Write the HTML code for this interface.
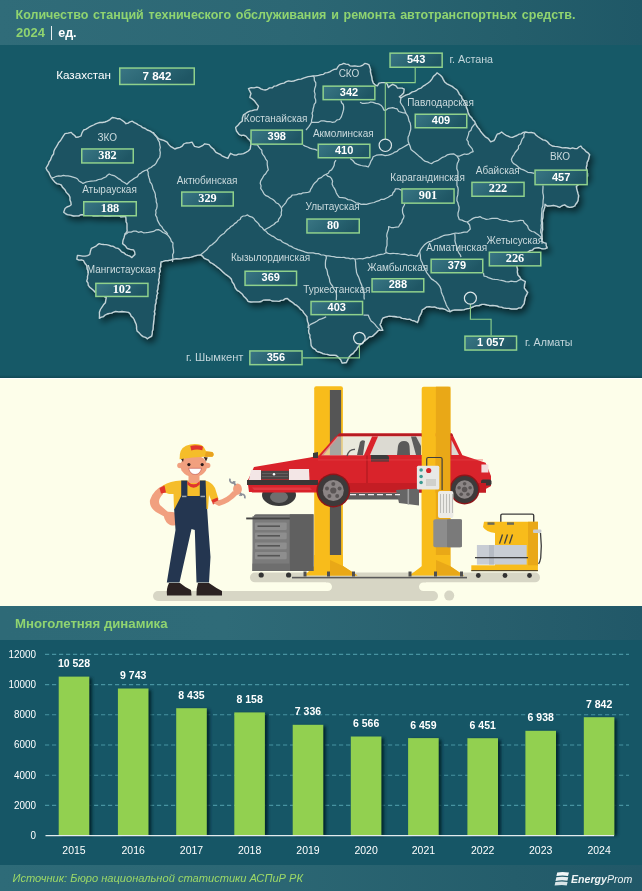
<!DOCTYPE html>
<html lang="ru">
<head>
<meta charset="utf-8">
<title>Количество станций технического обслуживания и ремонта автотранспортных средств</title>
<style>
html,body{margin:0;padding:0;}
body{width:642px;height:891px;overflow:hidden;position:relative;background:#175866;font-family:"Liberation Sans","DejaVu Sans",sans-serif;}
.abs{position:absolute;}
#hdr{left:0;top:0;width:642px;height:45px;background:linear-gradient(90deg,#306c79 0%,#2c6774 45%,#245e6b 80%,#1f5867 100%);z-index:3;}
#map{left:0;top:45px;width:642px;height:333px;background:#165967;}
#ill{left:0;top:378px;width:642px;height:228px;background:#fdfeea;}
#mapsh{left:0;top:374.5px;width:642px;height:3.5px;background:linear-gradient(180deg,rgba(8,40,48,0) 0%,rgba(8,40,48,.35) 100%);z-index:3;}
#illhl{left:0;top:378px;width:642px;height:1px;background:#ffffff;z-index:3;}
#chh{left:0;top:606px;width:642px;height:34px;background:linear-gradient(90deg,#2e6a77 0%,#2f6b78 35%,#285f6d 75%,#215868 100%);}
#cht{left:0;top:640px;width:642px;height:225px;background:#165666;}
#ftr{left:0;top:865px;width:642px;height:26px;background:linear-gradient(90deg,#2e6b78 0%,#2b6673 45%,#245d6b 80%,#215868 100%);}
svg{position:absolute;left:0;top:0;}
.t1{position:absolute;left:15.5px;top:7.7px;font:bold 12.5px "Liberation Sans",sans-serif;color:#90d470;word-spacing:1.3px;white-space:nowrap;}
.t2{position:absolute;left:16px;top:25px;font:bold 13px "Liberation Sans",sans-serif;color:#90d470;white-space:nowrap;}
.t2 .bar{display:inline-block;width:1.3px;height:14px;background:#e8f0f0;vertical-align:-3px;margin:0 6px 0 6px;}
.t2 .u{color:#fff;font-weight:bold;font-size:12.5px;}
.cht-title{position:absolute;left:15px;top:615.5px;font:bold 13.2px "Liberation Sans",sans-serif;color:#90d470;white-space:nowrap;}
.logo{position:absolute;left:571px;top:873px;font:italic 10.6px "Liberation Sans",sans-serif;color:#eef3f4;white-space:nowrap;z-index:5;line-height:12px;}
.logo b{font-weight:bold;}
.src{position:absolute;left:12.5px;top:871.5px;font:italic 11.1px "Liberation Sans",sans-serif;color:#9cd867;white-space:nowrap;}
</style>
</head>
<body>
<div id="hdr" class="abs">
  <div class="t1">Количество станций технического обслуживания и ремонта автотранспортных средств.</div>
  <div class="t2">2024<span class="bar"></span><span class="u">ед.</span></div>
</div>
<div id="map" class="abs"></div>
<div id="ill" class="abs"></div>
<div id="mapsh" class="abs"></div>
<div id="illhl" class="abs"></div>
<div id="chh" class="abs"></div>
<div id="cht" class="abs"></div>
<div id="ftr" class="abs"></div>
<div class="cht-title">Многолетняя динамика</div>
<div class="logo"><svg width="16" height="15" viewBox="0 0 16 15" style="position:absolute;left:-17px;top:-1px"><path d="M3.2 0.6 Q8 -0.4 15 0.6 L14 4 Q8 3 2.4 4.1 Z" fill="#f2f6f7"/><path d="M2.3 5.3 Q8 4.3 14.3 5.3 L13.4 8.8 Q8 7.8 1.5 8.9 Z" fill="#e6eef0"/><path d="M1.4 10 Q8 9 13.6 10 L12.8 13.4 Q8 12.4 0.6 13.6 Z" fill="#d9e4e7"/></svg><b>Energy</b>Prom</div>
<div class="src">Источник: Бюро национальной статистики АСПиР РК</div>

<svg width="642" height="891" style="position:absolute;left:0;top:0;z-index:2">
<defs>
<filter id="msh" x="-10%" y="-10%" width="120%" height="130%"><feGaussianBlur in="SourceAlpha" stdDeviation="3"/><feOffset dx="3" dy="4"/><feComponentTransfer><feFuncA type="linear" slope="0.55"/></feComponentTransfer><feMerge><feMergeNode/><feMergeNode in="SourceGraphic"/></feMerge></filter>
<linearGradient id="bxg" x1="0" y1="0" x2="1" y2="0.3"><stop offset="0" stop-color="#3a7684"/><stop offset="0.5" stop-color="#2b6674"/><stop offset="1" stop-color="#1f5664"/></linearGradient>
</defs>
<polygon points="46.0,168.0 47.2,166.1 48.4,164.2 49.0,162.0 50.4,160.2 51.2,158.1 52.0,156.0 53.6,154.0 53.9,151.3 54.9,149.0 56.3,146.8 57.6,144.7 58.7,142.4 60.6,140.5 62.0,138.2 63.4,135.8 65.0,133.7 68.1,133.2 71.2,132.4 72.7,134.1 74.7,135.5 76.0,137.4 78.6,137.0 81.0,136.0 82.0,132.9 83.6,130.0 85.7,129.3 87.7,128.2 89.5,126.8 91.5,125.9 93.6,125.0 95.6,123.9 97.7,123.2 99.8,122.5 102.4,122.5 104.9,122.0 107.3,121.2 110.0,119.6 112.3,117.5 114.8,117.9 117.2,118.7 119.8,118.7 122.0,120.2 124.1,121.8 126.0,123.7 128.2,123.1 130.1,121.8 132.3,121.2 134.3,122.6 136.5,123.6 138.5,125.0 140.8,126.0 142.7,127.7 145.2,128.5 147.2,130.0 149.8,130.9 152.2,132.4 153.4,132.7 154.8,135.1 156.8,137.0 158.4,138.6 160.5,139.5 163.7,140.4 167.1,142.1 168.6,144.4 170.5,146.4 172.7,147.6 174.8,149.0 177.3,148.0 180.0,147.3 182.2,146.2 183.7,144.0 186.0,143.0 189.1,142.9 192.0,142.1 193.2,144.3 194.5,146.4 198.8,147.3 200.9,146.4 203.0,145.3 204.8,143.8 209.1,144.7 211.0,147.1 213.4,149.0 215.9,152.4 218.0,153.4 220.1,154.3 221.9,155.8 224.8,157.2 227.9,158.4 229.1,155.8 230.5,153.3 233.9,155.0 236.3,155.2 238.5,154.2 240.8,154.1 243.5,153.6 245.9,152.4 248.3,151.0 250.2,149.0 250.6,146.4 251.0,143.8 250.2,140.4 247.9,138.4 245.9,136.1 243.7,135.2 241.2,135.5 239.0,134.4 236.5,131.0 235.6,127.6 238.2,125.0 240.0,122.8 242.3,121.1 242.4,117.9 243.5,114.8 245.6,113.5 247.6,112.1 249.8,111.1 252.2,110.6 254.7,109.9 257.2,109.9 258.5,106.1 256.5,103.6 254.7,101.1 252.4,99.0 249.8,97.4 251.0,93.6 249.8,91.1 248.5,88.7 251.2,87.7 254.1,87.8 256.8,87.2 259.0,87.7 260.9,88.8 263.0,89.6 265.2,90.0 267.5,89.3 269.5,87.9 272.1,87.9 274.0,86.2 276.4,85.8 278.8,84.6 281.3,83.6 284.0,83.1 286.3,81.6 288.7,80.9 291.3,81.3 293.7,81.0 296.1,80.2 298.5,79.3 301.1,79.1 303.5,78.1 305.9,77.4 308.2,76.7 310.5,76.3 312.9,76.0 315.8,75.9 318.6,75.4 321.3,74.6 323.5,74.3 325.4,72.8 327.6,72.6 329.7,71.8 331.9,70.5 334.2,69.4 336.7,69.0 337.9,66.8 339.5,64.8 341.7,64.3 343.7,63.4 345.8,64.2 348.1,64.3 349.9,65.8 352.1,66.2 354.9,65.8 357.7,66.4 360.5,66.2 362.9,65.1 364.8,63.4 367.0,63.9 369.0,64.8 369.7,67.1 370.5,69.4 370.4,71.8 371.1,74.6 371.8,77.4 372.2,80.3 373.2,83.0 375.8,85.4 377.4,85.9 379.1,83.2 381.8,82.6 385.6,82.6 387.3,84.3 388.4,87.5 390.0,85.9 392.7,84.3 396.0,85.9 397.6,88.1 402.0,88.1 404.2,89.2 403.6,93.0 401.4,95.2 399.3,96.8 400.9,97.9 403.3,96.5 405.8,95.2 409.1,94.1 412.3,91.9 414.6,91.3 416.7,90.3 418.7,88.8 421.1,88.1 423.1,86.2 425.4,84.8 427.7,83.2 430.0,81.5 431.9,79.1 433.4,76.4 435.4,74.8 437.0,72.8 440.4,75.2 442.2,77.2 443.3,79.6 444.6,81.9 446.8,83.8 449.5,85.1 452.1,86.4 454.5,88.3 457.0,90.0 458.3,92.1 459.4,94.5 461.4,96.2 462.1,98.7 463.8,100.6 465.0,102.8 466.0,105.0 466.3,107.4 467.4,109.6 467.9,112.0 468.7,114.2 470.0,116.3 471.7,117.8 472.8,119.7 474.5,121.2 475.4,123.3 476.4,125.5 477.7,127.4 479.4,129.2 480.5,131.3 482.0,133.1 483.6,135.0 485.3,136.8 487.5,138.1 489.2,139.8 490.7,141.8 494.0,140.7 495.2,138.6 496.1,136.4 497.2,134.2 499.6,133.5 501.6,132.0 503.7,133.8 506.0,135.3 508.1,136.1 510.2,137.2 512.5,137.4 514.7,136.3 516.9,135.5 519.0,134.2 521.3,133.8 523.3,132.4 525.6,132.0 528.5,132.7 531.4,132.5 534.3,133.1 536.1,135.3 538.4,137.0 540.8,138.5 542.9,139.9 545.4,140.4 547.4,141.8 549.5,144.3 552.2,146.0 554.7,146.4 557.2,146.6 559.7,147.2 562.4,147.9 565.2,147.6 568.0,148.0 570.3,148.6 572.6,147.9 574.9,148.6 577.2,148.5 578.9,147.0 580.9,146.0 582.4,148.3 584.6,149.8 586.0,151.7 588.1,152.9 589.6,154.7 589.0,157.2 588.4,159.7 587.1,162.4 586.9,164.9 586.3,167.4 586.5,170.0 587.4,172.9 587.5,176.0 585.8,177.4 584.5,179.3 582.6,180.5 581.0,182.0 578.7,184.3 576.3,186.5 576.7,188.9 577.3,191.1 577.9,193.4 578.6,195.7 578.3,197.9 578.1,200.2 577.2,202.3 575.8,204.0 574.7,206.0 572.3,207.0 569.7,207.3 567.0,206.5 564.7,204.8 562.0,205.7 559.7,207.3 556.6,206.2 553.5,205.3 550.4,205.8 547.2,206.0 545.0,204.2 544.8,206.9 544.0,209.4 543.2,212.0 543.0,214.7 542.9,217.4 542.2,220.0 542.4,222.7 542.4,225.0 542.4,227.4 542.5,229.7 542.0,232.0 541.7,234.3 542.1,236.6 542.1,238.9 541.8,241.2 543.7,242.7 546.1,243.4 546.2,245.7 547.2,247.8 545.1,248.7 542.9,248.9 540.7,248.4 538.6,247.7 536.3,247.8 534.0,248.4 532.3,250.2 529.9,250.6 528.0,252.0 526.2,253.7 523.7,254.6 522.2,256.7 520.0,258.0 519.2,260.1 518.3,262.1 517.2,264.1 516.7,266.3 517.5,269.1 517.3,272.1 517.8,275.0 519.7,277.0 521.1,279.4 523.2,280.5 525.4,281.6 524.5,284.8 524.3,288.1 526.0,290.3 527.6,292.5 526.6,294.7 525.4,296.8 525.0,299.0 524.4,301.2 524.3,303.4 522.7,305.6 521.1,307.8 518.9,307.8 516.8,309.0 514.5,308.8 511.7,309.0 509.1,308.3 506.3,308.4 503.6,307.8 501.5,307.1 499.2,306.8 497.1,306.0 494.9,305.7 492.7,305.5 489.9,305.6 487.2,305.0 484.6,304.3 481.8,304.4 479.1,305.5 476.2,305.6 473.5,306.7 471.5,307.5 469.4,308.4 467.2,308.7 464.2,309.6 461.0,310.0 457.9,310.0 454.8,310.0 452.3,310.4 450.1,311.6 447.4,310.8 445.0,309.3 442.3,308.5 439.6,308.5 437.0,307.9 434.5,306.9 431.9,307.1 429.3,306.6 426.7,306.9 424.4,308.5 422.1,310.0 421.5,312.4 420.5,314.7 419.0,317.1 418.5,319.9 417.4,322.5 414.3,320.9 411.9,320.3 409.7,319.2 407.2,319.3 404.9,318.6 402.2,318.3 399.8,317.2 397.1,317.0 394.5,316.5 391.9,316.3 389.3,316.2 386.2,316.8 383.1,317.8 381.7,320.0 381.1,322.5 379.9,324.7 381.5,327.4 382.7,330.3 378.5,330.3 376.5,332.5 374.3,334.5 372.2,336.4 369.4,336.8 367.3,338.7 365.6,340.1 363.6,341.3 362.4,343.3 360.3,344.3 358.9,346.0 357.4,347.7 356.4,349.8 354.7,351.3 353.1,353.4 350.8,354.8 349.1,356.9 347.7,359.7 346.3,362.5 342.1,363.1 340.7,359.7 338.6,357.5 336.4,355.5 334.2,355.2 331.9,355.2 329.6,355.2 327.4,354.3 325.2,354.1 323.0,353.7 321.0,352.7 318.9,352.0 316.8,351.3 315.1,349.3 312.7,347.9 311.2,345.7 310.9,342.9 310.7,340.0 309.8,337.3 310.0,335.0 308.8,332.9 308.6,330.6 309.1,328.3 308.4,326.1 308.5,323.7 307.6,321.4 307.2,319.1 307.0,316.7 305.5,314.9 304.0,313.1 302.8,311.1 300.5,309.2 298.6,306.9 296.8,305.4 294.7,304.3 293.0,302.7 291.0,301.4 289.1,300.1 287.4,298.5 285.1,298.7 283.3,300.1 281.0,300.3 279.0,301.3 276.7,301.1 274.4,301.1 272.2,301.0 270.0,300.0 267.7,299.9 265.4,300.0 263.1,300.2 261.0,301.5 258.8,301.8 256.5,301.9 253.7,301.8 250.9,302.0 248.1,301.3 246.9,299.4 245.4,297.7 243.7,296.2 242.5,294.3 240.7,292.8 238.9,291.3 236.9,290.1 235.1,287.5 234.1,284.5 232.2,281.9 231.3,278.9 229.4,277.0 227.1,275.4 224.9,273.8 222.9,271.9 220.9,270.0 218.9,268.2 216.6,266.6 214.5,264.9 212.4,263.5 210.1,262.4 208.5,260.2 206.1,259.2 204.0,258.1 202.6,256.1 200.5,255.0 198.1,255.1 195.8,255.7 193.5,256.4 191.2,257.1 188.8,257.6 186.4,257.6 183.9,258.0 181.5,258.6 179.0,258.8 176.4,258.6 174.0,259.2 170.9,260.0 167.7,260.7 165.4,260.6 163.2,261.4 161.0,262.0 160.7,264.2 160.7,266.5 159.7,268.7 160.4,271.1 159.3,273.2 159.4,275.5 159.3,277.8 158.5,280.0 159.1,282.3 158.4,284.5 158.0,286.7 157.9,289.0 157.1,291.2 157.7,293.5 156.6,295.7 156.8,298.0 156.0,300.2 156.1,302.6 155.3,304.8 155.1,307.1 155.1,309.3 154.3,311.5 154.8,313.8 154.2,316.0 154.1,318.7 153.7,321.5 153.4,324.2 153.2,326.6 153.1,329.1 152.3,331.4 152.2,333.8 151.6,336.2 149.4,337.3 147.4,338.8 145.6,337.3 143.3,336.6 141.4,335.4 139.4,333.1 137.1,331.1 136.6,328.8 136.6,326.5 136.2,324.2 135.1,321.9 134.2,319.5 132.8,317.4 131.1,315.9 130.1,313.8 128.5,312.3 125.3,311.8 122.0,311.5 118.8,311.8 115.7,311.4 113.6,312.2 111.5,313.1 109.3,313.4 107.1,314.0 105.1,315.0 103.5,316.6 101.3,317.1 99.4,318.3 99.5,315.3 99.4,312.3 100.4,309.5 102.0,307.1 103.5,304.8 105.4,302.8 105.8,300.2 106.3,297.7 104.1,296.5 102.0,295.0 99.3,294.7 97.5,292.7 95.0,292.0 93.4,290.2 91.6,288.7 89.8,287.2 88.3,285.4 88.0,282.9 86.7,281.0 87.5,278.7 87.5,276.4 88.1,274.1 88.3,271.7 87.1,268.7 86.7,265.4 84.9,263.2 83.6,260.7 81.4,259.8 79.0,260.1 76.8,259.2 77.4,255.5 80.0,255.7 82.6,256.1 85.2,256.1 87.6,255.6 89.8,254.5 90.4,251.3 91.4,248.3 93.5,247.4 95.6,246.4 97.3,244.9 99.2,243.6 101.5,244.3 103.8,244.5 106.2,244.6 108.5,245.2 110.9,246.0 113.3,246.4 115.4,247.8 117.9,248.3 119.9,249.8 121.5,251.8 123.9,252.8 125.7,254.5 127.8,255.4 130.0,256.2 131.9,257.6 135.0,254.5 134.7,252.0 133.5,249.8 130.3,249.3 127.2,248.3 125.2,245.7 122.6,243.6 123.0,240.4 124.1,237.4 124.7,235.1 125.8,233.1 127.2,231.2 127.0,228.7 127.0,226.3 127.0,223.8 126.1,221.4 126.0,218.9 125.7,216.5 123.4,216.5 121.1,216.9 118.8,215.9 116.5,215.8 114.2,215.7 111.9,215.9 109.6,216.2 107.3,216.0 105.0,216.0 102.6,215.5 100.2,215.7 97.8,215.9 95.5,215.7 93.1,215.7 90.7,215.1 88.4,214.9 86.0,214.7 83.6,214.7 81.1,214.7 78.7,215.9 76.2,215.9 73.7,216.0 70.6,215.1 67.4,214.7 65.4,213.6 63.7,212.2 65.0,208.5 66.9,207.0 69.3,206.2 71.2,204.8 70.9,202.3 70.0,199.9 70.0,197.3 69.1,195.2 67.5,193.6 66.0,191.9 65.0,189.8 62.8,187.6 61.2,184.8 59.1,184.1 56.9,183.6 55.0,182.3 53.0,179.9 51.2,177.3 49.9,175.0 48.9,172.5 47.1,170.4" fill="#1f5262" stroke="#c4d4d8" stroke-width="1.35" stroke-linejoin="round" filter="url(#msh)"/>
<polyline points="147.2,169.9 144.9,170.5 142.8,171.6 140.9,173.1 138.8,174.3 137.5,176.6 135.3,177.8 133.4,178.9 131.6,180.3 129.7,181.5 126.9,184.3 124.8,182.7 122.3,181.5 120.4,179.6 118.3,178.6 116.6,177.2 114.8,175.9 111.9,175.2 109.2,174.0 107.4,175.3 105.8,177.0 103.6,177.8 101.3,179.2 98.5,179.5 96.1,180.6 93.6,181.0 91.1,181.2 88.6,181.5 85.7,182.2 83.0,183.4 81.0,182.1 79.0,181.0 77.6,179.0 75.5,177.8 73.0,177.1 70.5,176.4 68.0,175.9 65.7,175.8 63.4,175.4 61.0,176.1 58.7,175.9 56.4,176.3 54.3,177.3 52.1,177.8" fill="none" stroke="#b9cdd2" stroke-width="1.25" stroke-linejoin="round"/>
<polyline points="152.2,132.4 154.8,134.4 156.8,137.0 157.9,139.7 159.4,142.1 159.7,144.7 160.3,147.3 159.7,149.8 160.3,152.4 160.1,154.9 159.7,157.4 158.2,159.1 157.1,161.1 156.1,163.1 154.7,164.9 152.7,166.0 151.0,167.5 148.9,168.4 147.2,169.9" fill="none" stroke="#b9cdd2" stroke-width="1.25" stroke-linejoin="round"/>
<polyline points="147.2,169.9 148.2,172.3 148.2,174.9 148.9,177.4 149.7,179.8 150.1,182.1 151.6,183.9 152.4,186.0 152.8,188.2 153.7,190.3 154.7,192.3 155.4,194.6 155.4,197.0 156.2,199.3 156.2,201.7 157.0,204.0 157.1,206.3 156.7,208.4 155.7,210.5 156.0,212.8 155.5,215.0 156.9,217.4 157.4,220.1 158.7,222.6 160.0,225.0 161.8,226.6 163.0,228.8 164.5,230.7 166.4,232.2 167.7,234.3" fill="none" stroke="#b9cdd2" stroke-width="1.25" stroke-linejoin="round"/>
<polyline points="124.0,234.0 126.5,233.8 128.6,232.1 131.2,232.1 133.5,231.2 136.0,231.1 138.4,232.3 141.1,231.6 143.5,232.8 146.0,232.7 148.5,232.3 151.1,231.8 153.6,231.4 155.9,229.9 158.4,229.6 160.8,230.8 162.9,232.5 165.5,233.4 167.7,235.0 169.2,236.9 170.6,238.8 171.3,241.2 173.0,243.0 172.8,245.4 173.0,247.7 173.5,250.0 173.6,252.4 172.6,254.8 172.8,257.2 172.9,259.6 172.4,262.0" fill="none" stroke="#b9cdd2" stroke-width="1.25" stroke-linejoin="round"/>
<polyline points="200.5,255.0 202.5,253.2 204.6,251.5 206.7,249.8 208.3,247.6 209.9,245.9 212.0,244.8 213.7,243.2 215.5,241.7 217.1,240.0 218.5,237.9 220.2,236.1 222.2,234.6 224.3,233.2 225.8,231.2 227.4,229.5 229.3,228.2 230.9,226.5 233.0,225.4 234.5,223.6 236.6,222.4 237.9,220.5 240.1,219.5 241.1,217.2 243.2,216.0 245.5,215.8 247.6,214.9 249.6,216.4 252.0,217.1 253.9,218.5 255.1,220.5 256.8,222.0 258.5,223.6 259.9,226.1 262.4,227.8 264.0,230.2" fill="none" stroke="#b9cdd2" stroke-width="1.25" stroke-linejoin="round"/>
<polyline points="264.0,230.2 266.5,228.7 269.2,227.4 271.6,225.8 273.9,224.5 275.7,222.5 278.1,221.4 278.7,219.0 280.2,217.0 281.4,214.9 281.2,212.6 281.7,210.3 281.4,208.0" fill="none" stroke="#b9cdd2" stroke-width="1.25" stroke-linejoin="round"/>
<polyline points="251.0,143.8 254.1,144.7 257.4,144.8 258.7,146.8 260.1,148.6 261.8,150.3 261.9,152.6 262.9,154.6 264.6,156.7 265.7,159.1 267.3,161.2 267.2,164.2 267.6,167.0 268.3,169.9 266.8,171.7 265.7,173.7 264.0,175.3 262.4,178.1 260.7,180.8 260.2,183.3 261.1,185.9 260.7,188.4 262.5,191.0 264.0,193.9 265.9,195.7 268.4,196.7 270.5,198.2 272.6,199.3 274.5,200.8 276.0,202.7 278.2,203.7 279.9,205.7 281.4,208.0" fill="none" stroke="#b9cdd2" stroke-width="1.25" stroke-linejoin="round"/>
<polyline points="281.4,208.0 282.8,206.1 284.4,204.4 285.9,202.6 286.9,200.4 288.5,198.4 290.7,197.0 292.3,195.0 294.5,194.9 296.7,194.6 298.8,193.7 301.1,193.9 303.1,192.8 305.4,192.7 307.7,192.5 309.8,191.7 310.6,189.4 311.9,187.4 313.0,185.2 314.7,182.9 317.0,181.0 318.5,178.6 321.3,177.6 323.5,175.6 326.1,174.3 328.3,173.3 329.5,171.0 331.6,169.9 333.0,167.6 334.2,165.2 334.5,162.4 336.0,160.1" fill="none" stroke="#b9cdd2" stroke-width="1.25" stroke-linejoin="round"/>
<polyline points="264.0,230.2 266.1,231.3 267.6,233.2 269.6,234.5 271.6,235.8 273.8,236.7 275.8,238.3 277.9,239.7 280.6,240.1 282.4,242.0 284.7,243.2 287.0,244.1 288.9,245.6 291.3,246.4 293.4,247.7 295.6,248.7 298.0,249.6 300.4,250.4 302.8,251.2 305.3,252.1 307.9,252.8 310.6,252.8 313.2,252.9 315.8,253.7 318.4,253.6 320.9,254.8 323.6,255.0 326.2,255.9 328.8,255.8 331.3,256.4 333.9,256.7 336.5,257.3 339.1,257.3 341.7,257.5 344.0,257.4 346.1,258.2 348.4,258.1 350.5,258.9 352.8,258.4 355.0,259.0 357.5,258.9 360.0,258.5 362.6,258.9 365.1,258.2 367.2,257.4 369.5,257.7 371.6,256.7 373.8,256.2 376.0,255.9 378.4,254.8 381.0,254.3 383.7,254.0 386.1,252.7 388.4,253.4 390.7,253.6 393.1,253.4 395.4,253.5 397.7,253.5 399.8,254.0 402.0,254.4 404.3,254.2 406.5,254.7 408.6,255.5 410.9,254.9 413.1,255.4 415.3,255.7 417.4,256.3 418.2,254.2 419.7,252.4 420.5,249.8 422.1,247.7 424.2,245.1 426.7,243.0 428.7,241.9 431.1,241.4 433.0,240.0 435.1,239.2 437.2,238.5 439.2,237.6 441.2,236.6 443.2,235.7 445.4,235.2 448.0,234.8 450.6,234.4 453.2,233.7 455.8,233.0 458.4,233.3 461.0,232.9 464.1,232.2 467.2,232.1 470.3,229.0 469.6,225.0 467.2,222.0" fill="none" stroke="#b9cdd2" stroke-width="1.25" stroke-linejoin="round"/>
<polyline points="326.2,255.9 326.3,258.2 325.6,260.5 325.4,262.9 325.4,265.2 325.6,267.6 326.9,269.8 327.4,272.2 327.7,274.6 328.8,276.8 329.5,279.2 329.8,281.7 330.8,283.9 332.5,286.0 333.5,288.6 335.2,290.8 336.3,293.3 336.5,295.5 336.4,297.8 336.3,300.0" fill="none" stroke="#b9cdd2" stroke-width="1.25" stroke-linejoin="round"/>
<polyline points="355.0,259.0 355.6,262.1 355.7,265.2 355.9,267.6 356.3,269.9 356.5,272.3 357.3,274.6 358.7,277.1 359.6,279.7 360.4,282.4 361.5,284.6 362.2,287.0 362.5,289.5 363.5,291.7 364.2,294.3 364.0,296.9 364.3,299.5" fill="none" stroke="#b9cdd2" stroke-width="1.25" stroke-linejoin="round"/>
<polyline points="363.5,315.0 365.9,315.0 368.2,315.1 369.1,317.2 370.1,319.3 371.3,321.3 373.2,322.6 374.8,324.1 376.1,325.9 377.6,327.6 379.3,329.1 380.7,331.0" fill="none" stroke="#b9cdd2" stroke-width="1.25" stroke-linejoin="round"/>
<polyline points="326.2,316.7 323.9,317.9 321.5,318.9 318.9,319.7 316.8,321.3 314.8,322.4 312.7,323.4 310.6,324.4 309.0,325.9 307.5,327.6" fill="none" stroke="#b9cdd2" stroke-width="1.25" stroke-linejoin="round"/>
<polyline points="404.8,203.6 404.0,205.7 402.9,207.6 402.4,209.8 402.7,213.1 404.0,216.1 403.5,218.2 402.2,220.1 401.7,222.3 399.9,224.5 398.5,227.0 396.2,227.1 394.0,227.5 391.2,227.5 388.6,226.7 388.6,229.1 387.7,231.4 387.0,233.7 386.7,236.0 387.3,238.3 387.0,240.7 387.0,243.0 387.0,245.4 386.2,247.8 385.8,250.2 386.1,252.7" fill="none" stroke="#b9cdd2" stroke-width="1.25" stroke-linejoin="round"/>
<polyline points="326.1,174.3 327.6,176.2 330.0,176.9 331.6,178.7 332.6,181.2 332.1,184.0 333.1,186.5 334.4,188.4 335.5,190.4 336.2,192.7 337.6,195.1 339.3,197.4 342.5,197.6 345.6,198.2 348.0,199.6 350.9,200.0 353.4,201.3 355.8,202.8 358.7,203.2 361.2,204.4 363.8,204.2 366.4,204.3 368.9,203.6 371.6,203.0 374.2,202.5 376.7,201.3 379.1,200.7 381.2,199.3 383.9,199.4 386.1,198.2 388.2,197.2 390.1,195.9 392.3,195.0 393.0,192.8 394.7,191.0 395.4,188.8 398.5,188.8 401.7,190.4" fill="none" stroke="#b9cdd2" stroke-width="1.25" stroke-linejoin="round"/>
<polyline points="312.9,76.0 314.3,77.4 314.3,80.3 315.8,82.9 315.7,85.8 314.7,88.5 314.3,91.4 315.1,94.2 314.7,97.2 315.7,99.9 315.7,102.3 314.2,104.3 313.8,106.6 313.1,108.8 312.9,111.1 312.1,113.3 312.6,115.6 312.2,117.8 311.6,120.0 311.5,122.3 310.3,124.4 309.0,126.3 307.6,128.2 306.0,130.0" fill="none" stroke="#b9cdd2" stroke-width="1.25" stroke-linejoin="round"/>
<polyline points="311.5,122.3 315.7,122.3 318.6,122.3 321.2,120.8 324.1,120.9 326.9,121.6 329.8,121.5 332.5,122.3 335.0,121.9 337.0,119.9 339.5,119.5 341.3,116.9 342.3,113.9 343.0,111.6 343.6,109.3 343.7,106.9 343.3,104.5 341.6,102.7 340.9,100.4" fill="none" stroke="#b9cdd2" stroke-width="1.25" stroke-linejoin="round"/>
<polyline points="360.0,102.3 362.1,103.3 364.4,103.4 368.7,102.8 370.8,102.0 373.1,102.3 375.7,103.3 378.5,103.9 381.3,105.5 382.9,107.7 384.0,110.4" fill="none" stroke="#b9cdd2" stroke-width="1.25" stroke-linejoin="round"/>
<polyline points="384.0,110.4 386.4,109.8 388.4,108.3 392.7,107.7 394.9,108.4 397.1,108.8 398.7,111.5 402.5,112.6 405.8,113.2 408.0,116.4 408.5,118.7 409.0,120.9 410.2,123.0 410.7,126.2 410.7,129.5 409.8,132.2 409.1,135.0 408.1,137.0 408.0,139.3 408.2,141.6 409.1,143.7" fill="none" stroke="#b9cdd2" stroke-width="1.25" stroke-linejoin="round"/>
<polyline points="400.9,97.9 400.6,100.1 400.3,102.3 401.6,104.5 403.1,106.6 404.7,109.9 405.8,113.2" fill="none" stroke="#b9cdd2" stroke-width="1.25" stroke-linejoin="round"/>
<polyline points="303.0,145.0 305.2,146.1 307.6,147.0 309.8,148.1 312.3,148.9 315.0,149.3 317.4,150.3" fill="none" stroke="#b9cdd2" stroke-width="1.25" stroke-linejoin="round"/>
<polyline points="350.2,158.5 352.8,160.5 354.9,163.1 356.9,164.1 359.0,164.8 361.2,165.5 363.5,166.0 365.9,166.2 368.2,167.0 369.8,164.2 370.9,161.2 372.3,159.2 373.1,156.8 376.4,155.2 379.1,154.9 381.8,154.6 385.1,155.7 388.4,155.2 390.6,154.4 392.7,153.5 394.8,152.1 397.1,151.3 399.0,149.4 401.4,148.3 403.6,147.0 406.4,145.4 409.1,143.7" fill="none" stroke="#b9cdd2" stroke-width="1.25" stroke-linejoin="round"/>
<polyline points="409.1,143.7 410.2,146.5 411.0,149.4 412.9,151.0 414.9,152.6 416.8,154.2 418.7,155.9 421.0,157.7 423.0,159.7 425.3,161.4 427.6,161.9 429.6,163.0 431.8,163.6 433.7,162.0 436.0,161.2 438.3,160.3 440.4,158.8 442.5,157.3 445.0,156.5 447.1,154.9 450.3,154.1 453.6,153.8 456.9,156.0" fill="none" stroke="#b9cdd2" stroke-width="1.25" stroke-linejoin="round"/>
<polyline points="456.9,156.0 459.7,156.0 462.3,154.9 464.4,154.0 466.7,154.4 468.9,153.8 470.9,152.4 473.2,151.6 472.1,148.6 470.0,146.2 468.4,144.2 468.2,141.6 466.7,139.6 467.6,137.1 468.5,134.6 468.9,132.0 471.0,130.2 471.9,127.5 473.6,125.4 475.4,123.3" fill="none" stroke="#b9cdd2" stroke-width="1.25" stroke-linejoin="round"/>
<polyline points="456.9,156.0 459.1,159.3 458.3,161.5 457.3,163.5 456.9,165.8 456.8,168.8 457.9,171.6 458.0,174.5 457.3,177.4 457.0,180.3 456.9,183.2 457.0,185.4 457.9,187.5 458.2,189.7 458.0,192.0 457.8,194.9 457.0,197.8 456.9,200.7 457.9,202.8 458.4,205.0 459.1,207.2 458.9,210.1 458.0,213.0 458.0,215.9 459.4,219.7" fill="none" stroke="#b9cdd2" stroke-width="1.25" stroke-linejoin="round"/>
<polyline points="459.4,219.7 462.1,220.1 464.5,221.4 467.2,222.0 469.4,220.8 471.4,219.4 473.5,218.1 475.6,217.3 477.9,217.4 480.0,216.6 481.9,217.8 484.1,218.5 486.2,219.4 489.1,219.0 492.0,218.4 494.9,218.3 497.2,218.3 499.3,219.3 501.4,220.0 503.6,220.5 506.6,220.4 509.4,221.6 512.3,221.6 515.0,221.0 517.7,220.8 520.4,220.3 523.2,220.5 524.2,222.7 525.9,224.3 527.6,226.0 528.3,228.3 529.8,230.3 531.9,231.5 534.4,232.0 536.3,233.6 538.6,235.1 540.7,236.9 542.0,240.0" fill="none" stroke="#b9cdd2" stroke-width="1.25" stroke-linejoin="round"/>
<polyline points="454.8,233.7 455.0,236.0 455.1,238.4 454.9,240.7 455.5,243.0 456.3,245.6 457.1,248.2 457.9,250.8 458.8,252.9 460.3,254.8 461.0,257.1" fill="none" stroke="#b9cdd2" stroke-width="1.25" stroke-linejoin="round"/>
<polyline points="483.5,273.0 484.0,276.1 486.3,276.5 488.3,277.6 490.5,278.3 492.6,279.1 494.9,279.4 497.1,279.5 499.3,280.0 501.5,280.3 503.7,280.9 505.8,281.6 508.5,281.9 511.2,281.2 514.0,281.6 516.7,281.6 518.8,280.2 521.1,279.4" fill="none" stroke="#b9cdd2" stroke-width="1.25" stroke-linejoin="round"/>
<polyline points="419.7,252.4 420.4,255.5 420.5,258.6 421.1,260.7 422.2,262.7 422.8,264.8 424.4,267.3 425.4,270.0 426.7,272.6 428.3,274.7 429.9,276.8 431.4,278.9 433.8,280.4 436.1,282.0 438.2,284.2 440.0,286.7 441.0,289.2 441.3,291.9 442.3,294.4 443.5,296.9 444.2,299.7 445.4,302.2 446.1,304.4 447.1,306.6 448.5,308.5 450.1,311.6" fill="none" stroke="#b9cdd2" stroke-width="1.25" stroke-linejoin="round"/>
<polyline points="525.6,132.0 524.0,134.2 523.9,137.1 522.1,139.2 521.2,141.8 520.4,144.1 518.5,145.9 518.4,148.6 516.8,150.5 515.1,152.5 513.9,154.8 512.4,156.9 511.4,159.3 512.0,161.7 513.6,163.6 515.7,164.7 517.5,166.2 519.2,167.9 521.2,169.1 523.5,169.9 525.7,171.0 527.8,172.3 531.1,172.6 534.3,173.4" fill="none" stroke="#b9cdd2" stroke-width="1.25" stroke-linejoin="round"/>
<polyline points="543.0,185.4 543.0,187.9 542.8,190.4 542.8,192.9 543.4,195.4 543.5,197.9 543.1,200.4 543.0,202.9 542.9,205.8 541.9,208.7 541.9,211.6 541.6,213.9 541.5,216.2 541.4,218.5 541.2,220.7 541.6,223.1 541.1,225.3 541.3,227.6 540.8,229.9 540.7,232.5 541.9,234.9 541.4,237.5 542.0,240.0" fill="none" stroke="#b9cdd2" stroke-width="1.25" stroke-linejoin="round"/>
<polyline points="415.2,68 415.2,82.6 385.3,82.6 385.3,139" fill="none" stroke="#8fd18c" stroke-width="1.1"/>
<circle cx="385.3" cy="145.3" r="6.2" fill="none" stroke="#dde6e8" stroke-width="1.2"/>
<polyline points="302.8,357.9 359.4,357.9 359.4,344" fill="none" stroke="#8fd18c" stroke-width="1.1"/>
<circle cx="359.4" cy="338.1" r="5.8" fill="none" stroke="#dde6e8" stroke-width="1.2"/>
<polyline points="470.4,304.3 470.4,319.2 491.1,319.2 491.1,335.4" fill="none" stroke="#8fd18c" stroke-width="1.1"/>
<circle cx="470.4" cy="298.2" r="6" fill="none" stroke="#dde6e8" stroke-width="1.2"/>
<rect x="119.75" y="68.05" width="74.50" height="16.40" fill="url(#bxg)" stroke="#8fd18c" stroke-width="1.5"/>
<text x="157.0" y="79.9" text-anchor="middle" font-family="Liberation Sans, sans-serif" font-weight="bold" font-size="11.6" fill="#ffffff">7 842</text>
<text x="56.2" y="79.3" text-anchor="start" font-family="Liberation Sans, sans-serif" font-size="11.7" fill="#ffffff">Казахстан</text>
<rect x="81.75" y="148.95" width="51.50" height="14.00" fill="url(#bxg)" stroke="#8fd18c" stroke-width="1.5"/>
<text x="107.5" y="159.1" text-anchor="middle" font-family="Liberation Serif, serif" font-weight="bold" font-size="12.3" fill="#ffffff">382</text>
<text x="107.3" y="141.0" text-anchor="middle" font-family="Liberation Sans, sans-serif" font-size="10" fill="#cbdadd">ЗКО</text>
<rect x="83.75" y="201.75" width="52.50" height="14.00" fill="url(#bxg)" stroke="#8fd18c" stroke-width="1.5"/>
<text x="110.0" y="211.9" text-anchor="middle" font-family="Liberation Serif, serif" font-weight="bold" font-size="12.3" fill="#ffffff">188</text>
<text x="109.5" y="192.8" text-anchor="middle" font-family="Liberation Sans, sans-serif" font-size="10" fill="#cbdadd">Атырауская</text>
<rect x="181.75" y="192.05" width="51.50" height="13.90" fill="url(#bxg)" stroke="#8fd18c" stroke-width="1.5"/>
<text x="207.5" y="202.1" text-anchor="middle" font-family="Liberation Serif, serif" font-weight="bold" font-size="12.3" fill="#ffffff">329</text>
<text x="207.2" y="183.5" text-anchor="middle" font-family="Liberation Sans, sans-serif" font-size="10" fill="#cbdadd">Актюбинская</text>
<rect x="251.05" y="130.15" width="51.30" height="14.00" fill="url(#bxg)" stroke="#8fd18c" stroke-width="1.5"/>
<text x="276.7" y="140.2" text-anchor="middle" font-family="Liberation Sans, sans-serif" font-weight="bold" font-size="11" fill="#ffffff">398</text>
<text x="275.7" y="121.7" text-anchor="middle" font-family="Liberation Sans, sans-serif" font-size="10" fill="#cbdadd">Костанайская</text>
<rect x="323.15" y="86.15" width="51.70" height="13.50" fill="url(#bxg)" stroke="#8fd18c" stroke-width="1.5"/>
<text x="349.0" y="95.7" text-anchor="middle" font-family="Liberation Sans, sans-serif" font-weight="bold" font-size="11" fill="#ffffff">342</text>
<text x="349" y="77.4" text-anchor="middle" font-family="Liberation Sans, sans-serif" font-size="10" fill="#cbdadd">СКО</text>
<rect x="318.25" y="144.25" width="51.60" height="13.50" fill="url(#bxg)" stroke="#8fd18c" stroke-width="1.5"/>
<text x="344.1" y="153.8" text-anchor="middle" font-family="Liberation Sans, sans-serif" font-weight="bold" font-size="11" fill="#ffffff">410</text>
<text x="343.3" y="136.8" text-anchor="middle" font-family="Liberation Sans, sans-serif" font-size="10" fill="#cbdadd">Акмолинская</text>
<rect x="415.25" y="114.25" width="51.50" height="13.50" fill="url(#bxg)" stroke="#8fd18c" stroke-width="1.5"/>
<text x="441.0" y="123.8" text-anchor="middle" font-family="Liberation Sans, sans-serif" font-weight="bold" font-size="11" fill="#ffffff">409</text>
<text x="440.5" y="106" text-anchor="middle" font-family="Liberation Sans, sans-serif" font-size="10" fill="#cbdadd">Павлодарская</text>
<rect x="535.05" y="170.15" width="52.10" height="14.50" fill="url(#bxg)" stroke="#8fd18c" stroke-width="1.5"/>
<text x="561.1" y="180.7" text-anchor="middle" font-family="Liberation Sans, sans-serif" font-weight="bold" font-size="11" fill="#ffffff">457</text>
<text x="560" y="160.4" text-anchor="middle" font-family="Liberation Sans, sans-serif" font-size="10" fill="#cbdadd">ВКО</text>
<rect x="471.95" y="182.35" width="52.10" height="13.90" fill="url(#bxg)" stroke="#8fd18c" stroke-width="1.5"/>
<text x="498.0" y="192.4" text-anchor="middle" font-family="Liberation Serif, serif" font-weight="bold" font-size="12.3" fill="#ffffff">222</text>
<text x="497.8" y="173.7" text-anchor="middle" font-family="Liberation Sans, sans-serif" font-size="10" fill="#cbdadd">Абайская</text>
<rect x="401.95" y="188.95" width="52.10" height="14.20" fill="url(#bxg)" stroke="#8fd18c" stroke-width="1.5"/>
<text x="428.0" y="199.3" text-anchor="middle" font-family="Liberation Serif, serif" font-weight="bold" font-size="12.3" fill="#ffffff">901</text>
<text x="427.6" y="181.2" text-anchor="middle" font-family="Liberation Sans, sans-serif" font-size="10" fill="#cbdadd">Карагандинская</text>
<rect x="306.95" y="219.05" width="52.30" height="13.90" fill="url(#bxg)" stroke="#8fd18c" stroke-width="1.5"/>
<text x="333.1" y="229.1" text-anchor="middle" font-family="Liberation Serif, serif" font-weight="bold" font-size="12.3" fill="#ffffff">80</text>
<text x="332.6" y="210.4" text-anchor="middle" font-family="Liberation Sans, sans-serif" font-size="10" fill="#cbdadd">Улытауская</text>
<rect x="95.85" y="283.35" width="52.10" height="13.10" fill="url(#bxg)" stroke="#8fd18c" stroke-width="1.5"/>
<text x="121.9" y="292.6" text-anchor="middle" font-family="Liberation Serif, serif" font-weight="bold" font-size="12.3" fill="#ffffff">102</text>
<text x="121.3" y="273.2" text-anchor="middle" font-family="Liberation Sans, sans-serif" font-size="10" fill="#cbdadd">Мангистауская</text>
<rect x="245.05" y="271.25" width="51.50" height="14.10" fill="url(#bxg)" stroke="#8fd18c" stroke-width="1.5"/>
<text x="270.8" y="281.4" text-anchor="middle" font-family="Liberation Sans, sans-serif" font-weight="bold" font-size="11" fill="#ffffff">369</text>
<text x="270.6" y="261.2" text-anchor="middle" font-family="Liberation Sans, sans-serif" font-size="10" fill="#cbdadd">Кызылординская</text>
<rect x="311.05" y="301.45" width="51.50" height="13.20" fill="url(#bxg)" stroke="#8fd18c" stroke-width="1.5"/>
<text x="336.8" y="310.7" text-anchor="middle" font-family="Liberation Sans, sans-serif" font-weight="bold" font-size="11" fill="#ffffff">403</text>
<text x="336.8" y="293" text-anchor="middle" font-family="Liberation Sans, sans-serif" font-size="10" fill="#cbdadd">Туркестанская</text>
<rect x="372.05" y="278.75" width="51.70" height="13.10" fill="url(#bxg)" stroke="#8fd18c" stroke-width="1.5"/>
<text x="397.9" y="287.9" text-anchor="middle" font-family="Liberation Sans, sans-serif" font-weight="bold" font-size="11" fill="#ffffff">288</text>
<text x="397.7" y="271" text-anchor="middle" font-family="Liberation Sans, sans-serif" font-size="10" fill="#cbdadd">Жамбылская</text>
<rect x="431.15" y="259.25" width="51.60" height="13.50" fill="url(#bxg)" stroke="#8fd18c" stroke-width="1.5"/>
<text x="456.9" y="268.8" text-anchor="middle" font-family="Liberation Sans, sans-serif" font-weight="bold" font-size="11" fill="#ffffff">379</text>
<text x="456.7" y="251" text-anchor="middle" font-family="Liberation Sans, sans-serif" font-size="10" fill="#cbdadd">Алматинская</text>
<rect x="489.35" y="252.25" width="51.40" height="13.60" fill="url(#bxg)" stroke="#8fd18c" stroke-width="1.5"/>
<text x="515.0" y="262.0" text-anchor="middle" font-family="Liberation Serif, serif" font-weight="bold" font-size="12.3" fill="#ffffff">226</text>
<text x="514.9" y="243.5" text-anchor="middle" font-family="Liberation Sans, sans-serif" font-size="10" fill="#cbdadd">Жетысуская</text>
<rect x="390.05" y="53.15" width="52.10" height="14.10" fill="url(#bxg)" stroke="#8fd18c" stroke-width="1.5"/>
<text x="416.1" y="63.3" text-anchor="middle" font-family="Liberation Sans, sans-serif" font-weight="bold" font-size="11" fill="#ffffff">543</text>
<text x="449.5" y="63" text-anchor="start" font-family="Liberation Sans, sans-serif" font-size="10.7" fill="#c3d6db">г. Астана</text>
<rect x="249.85" y="350.95" width="52.20" height="13.70" fill="url(#bxg)" stroke="#8fd18c" stroke-width="1.5"/>
<text x="275.9" y="360.7" text-anchor="middle" font-family="Liberation Sans, sans-serif" font-weight="bold" font-size="11" fill="#ffffff">356</text>
<text x="243.5" y="361" text-anchor="end" font-family="Liberation Sans, sans-serif" font-size="10.7" fill="#c3d6db" textLength="57.5" lengthAdjust="spacingAndGlyphs">г. Шымкент</text>
<rect x="464.95" y="336.15" width="51.60" height="13.90" fill="url(#bxg)" stroke="#8fd18c" stroke-width="1.5"/>
<text x="490.8" y="346.1" text-anchor="middle" font-family="Liberation Sans, sans-serif" font-weight="bold" font-size="11" fill="#ffffff">1 057</text>
<text x="525" y="346" text-anchor="start" font-family="Liberation Sans, sans-serif" font-size="10.7" fill="#c3d6db">г. Алматы</text>
</svg>

<svg width="642" height="891" style="position:absolute;left:0;top:0;z-index:2">
<rect x="250" y="572.5" width="290" height="10" rx="5" fill="#d7d6c5"/>
<rect x="153" y="591" width="285" height="10" rx="5" fill="#d7d6c5"/>
<rect x="326" y="578" width="100" height="17" fill="#d7d6c5"/>
<rect x="140" y="582.4" width="192" height="8.6" rx="4.3" fill="#fdfeea"/>
<rect x="419" y="582.4" width="130" height="8.6" rx="4.3" fill="#fdfeea"/>
<circle cx="449.2" cy="595.6" r="5" fill="#d7d6c5"/>
<rect x="292" y="576.8" width="175" height="1.6" fill="#5a5a5a"/>
<rect x="314.2" y="386.2" width="28.7" height="185" rx="2" fill="#f8bc1b"/>
<rect x="329.9" y="390" width="11.2" height="181" fill="#555555"/>
<path d="M314 555 L314 566 L304.5 575.5 L357.5 575.5 L343 566 L343 555 Z" fill="#f8bc1b"/>
<path d="M330 560 L330 575.5 L357.5 575.5 L343 566 Z" fill="#e9a817"/>
<rect x="303.5" y="571.5" width="3" height="5" fill="#505050"/><rect x="327" y="571.5" width="3" height="5" fill="#505050"/><rect x="352" y="571.5" width="3" height="5" fill="#505050"/>
<rect x="421.7" y="386.7" width="28.7" height="185" rx="2" fill="#f8bc1b"/>
<rect x="435.9" y="386.7" width="14.5" height="185" fill="#e9a817"/>
<path d="M422 555 L422 566 L409.5 575.5 L464 575.5 L450 566 L450 555 Z" fill="#f8bc1b"/>
<path d="M436 560 L436 575.5 L464 575.5 L450 566 Z" fill="#e9a817"/>
<rect x="408.5" y="571.5" width="3" height="5" fill="#505050"/><rect x="434" y="571.5" width="3" height="5" fill="#505050"/><rect x="460" y="571.5" width="3" height="5" fill="#505050"/>
<ellipse cx="279" cy="495" rx="17" ry="11" fill="#3a3a3a"/>
<ellipse cx="279" cy="497" rx="9" ry="6" fill="#6f6f6f"/>
<path d="M254 467 L310 457.5 L321 455 L462 455 L485.6 462.8 L491 476 L491 486 L484 490 L470 490 L320 492 L249 492 L247.5 481 Z" fill="#d9232b"/>
<path d="M336 436.6 L339.5 433.4 L452 433.4 L462.5 455.5 L450 455.5 L450 436.6 Z" fill="#d9232b"/>
<path d="M318.5 455.8 L335.5 436.4 L339 436.4 L323 455.8 Z" fill="#d9232b"/>
<path d="M339 433.4 L452 433.4 L453.2 436 L337 436 Z" fill="#b71b22"/>
<path d="M451.5 440 L459 455 L451.5 455 Z" fill="#dcdad2"/>
<path d="M321.2 455.5 L337.5 436.4 L372 436.4 L364 455.5 Z" fill="#dcdad2" opacity="0.6"/>
<path d="M370 455 L378 436.4 L421 436.4 L421 455 Z" fill="#dcdad2"/>
<path d="M411 436.4 L416 436.4 L421 446 L421 455 L416 455 Z" fill="#5c5c5c"/>
<path d="M347 456 Q349 449 355 449.5" fill="none" stroke="#555" stroke-width="1.3"/>
<path d="M357 455 L360 442 Q362 439 365 441 L363 455 Z" fill="#5a5a5a"/>
<path d="M397 455 L398 446 Q399 441 404 441 Q409 441 409.5 446 L410 455 Z" fill="#5a5a5a"/>
<path d="M364 455 L372 436.4 L378 436.4 L370 455 Z" fill="#d9232b"/>
<rect x="366.5" y="455.5" width="1" height="36" fill="#a8181e"/>
<path d="M371 455 L386 455 Q389 455 389 458 L389 461.5 L371 461.5 Z" fill="#3b3b3b"/>
<path d="M313 453 L318 452 L318 458 L313 458 Z" fill="#3b3b3b"/>
<path d="M251 470 L261 470 L261 480 L249 480 Z" fill="#f3e6e6"/>
<path d="M289 469 L309 469 L309.5 480 L289 480 Z" fill="#f3e6e6"/>
<rect x="261" y="470.8" width="28" height="8.6" fill="#4a4545"/>
<rect x="262" y="473" width="26" height="0.8" fill="#6a6565"/><rect x="262" y="476" width="26" height="0.8" fill="#6a6565"/>
<circle cx="274" cy="474.3" r="1.2" fill="#ffffff"/>
<path d="M247 480 L318 480 L318 485 L247 485 Z" fill="#3b3636"/>
<path d="M248.5 485 L320 485 L320 492.5 L252 492.5 Z" fill="#d9232b"/>
<path d="M252 487.5 L310 487.5 L312 490 L254 490 Z" fill="#e84850" opacity="0.6"/>
<rect x="318" y="487" width="168" height="5.5" fill="#b71b22"/>
<rect x="481.4" y="464.5" width="7" height="8" fill="#f3dede"/>
<rect x="481" y="479.5" width="10.5" height="6" rx="2" fill="#3b3636"/>
<rect x="318" y="483" width="168" height="9.5" fill="#c41d24"/>
<rect x="318" y="459.5" width="165" height="0.9" fill="#e8454c" opacity="0.7"/>
<rect x="343" y="493" width="59" height="6.5" fill="#5c5c5c"/>
<path d="M396 490 L419 488.5 L419 505.5 L399 503 Z" fill="#666666"/>
<rect x="407.5" y="489" width="1.6" height="15.5" fill="#a0a0a0"/>
<line x1="332" y1="494.6" x2="400" y2="494.6" stroke="#f3eeee" stroke-width="1.3" stroke-dasharray="6,3"/>
<circle cx="333.3" cy="490.5" r="16.9" fill="#8e1519"/>
<circle cx="333.3" cy="490.5" r="15.4" fill="#3d3a3a"/>
<circle cx="333.3" cy="490.5" r="10.5" fill="#8b8585"/>
<circle cx="333.3" cy="490.5" r="3.1" fill="#5a5555"/>
<circle cx="333.3" cy="483.9" r="2.0" fill="#5a5555"/>
<circle cx="339.6" cy="488.5" r="2.0" fill="#5a5555"/>
<circle cx="337.2" cy="495.9" r="2.0" fill="#5a5555"/>
<circle cx="329.4" cy="495.9" r="2.0" fill="#5a5555"/>
<circle cx="327.0" cy="488.5" r="2.0" fill="#5a5555"/>
<circle cx="464.6" cy="489.5" r="15.0" fill="#8e1519"/>
<circle cx="464.6" cy="489.5" r="13.5" fill="#3d3a3a"/>
<circle cx="464.6" cy="489.5" r="9.2" fill="#8b8585"/>
<circle cx="464.6" cy="489.5" r="2.7" fill="#5a5555"/>
<circle cx="464.6" cy="483.7" r="1.8" fill="#5a5555"/>
<circle cx="470.1" cy="487.7" r="1.8" fill="#5a5555"/>
<circle cx="468.0" cy="494.2" r="1.8" fill="#5a5555"/>
<circle cx="461.2" cy="494.2" r="1.8" fill="#5a5555"/>
<circle cx="459.1" cy="487.7" r="1.8" fill="#5a5555"/>
<rect x="421.7" y="430" width="14.2" height="80" fill="#f8bc1b"/>
<rect x="435.9" y="430" width="14.5" height="80" fill="#e9a817"/>
<path d="M426.7 466 L426.7 459 Q426.7 457.5 428.2 457.5 L440.6 457.5 Q442.1 457.5 442.1 459 L442.1 490" fill="none" stroke="#3e3e3e" stroke-width="1.2"/>
<rect x="416.9" y="465.7" width="22.4" height="23.8" rx="1.5" fill="#e8e8e6"/>
<circle cx="428.7" cy="470.5" r="2.6" fill="#d3232b"/>
<circle cx="421.1" cy="470" r="1.8" fill="#3a9a90"/><circle cx="421.1" cy="476.5" r="1.8" fill="#3a9a90"/><circle cx="421.1" cy="482.5" r="1.8" fill="#3a9a90"/>
<rect x="426" y="479" width="10" height="7" fill="#d0d0cc"/>
<rect x="438" y="491" width="15.4" height="27" rx="2" fill="#ecebe6"/>
<rect x="440" y="494" width="1" height="19" fill="#bdbdb8"/>
<rect x="443" y="494" width="1" height="19" fill="#bdbdb8"/>
<rect x="446" y="494" width="1" height="19" fill="#bdbdb8"/>
<rect x="449" y="494" width="1" height="19" fill="#bdbdb8"/>
<rect x="452" y="494" width="1" height="19" fill="#bdbdb8"/>
<rect x="433.3" y="519.2" width="28.6" height="28" rx="2" fill="#8d8d8d"/>
<rect x="447" y="519.2" width="14.9" height="28" rx="1" fill="#7a7a7a"/>
<path d="M253.7 517 Q253.7 514.3 256.5 514.3 L313.5 514.3 L313.5 571 L252.5 571 Z" fill="#6a6a6a"/>
<rect x="252.5" y="516.2" width="37.3" height="54.8" fill="#7b7b7b"/>
<rect x="289.8" y="514.3" width="23.7" height="56.7" fill="#606060"/>
<rect x="246.2" y="517.5" width="43.6" height="1.9" fill="#444444"/>
<rect x="255" y="522.4" width="31.7" height="7.5" rx="1" fill="#8e8e8e"/>
<rect x="257.5" y="525.4" width="22.5" height="1.6" fill="#555555"/>
<rect x="255" y="532.4" width="31.7" height="6.9" rx="1" fill="#8e8e8e"/>
<rect x="257.5" y="535.0" width="22.5" height="1.6" fill="#555555"/>
<rect x="255" y="542.4" width="31.7" height="6.8" rx="1" fill="#8e8e8e"/>
<rect x="257.5" y="545.0" width="22.5" height="1.6" fill="#555555"/>
<rect x="255" y="552.1" width="31.7" height="7.1" rx="1" fill="#8e8e8e"/>
<rect x="257.5" y="554.9" width="22.5" height="1.6" fill="#555555"/>
<rect x="252.5" y="563.6" width="37.3" height="7.4" fill="#6e6e6e"/>
<circle cx="261.2" cy="575" r="2.6" fill="#333"/><circle cx="288.6" cy="575" r="2.6" fill="#333"/>
<path d="M500.8 522 L500.8 515.5 Q500.8 514.1 502.2 514.1 L532.3 514.1 Q533.7 514.1 533.7 515.5 L533.7 522" fill="none" stroke="#3e3e3e" stroke-width="1.4"/>
<path d="M484 521.8 L538 521.8 L538 566 L495 566 L495 533 Q486 532 483 527 Z" fill="#f8bc1b"/>
<rect x="528" y="521.8" width="10" height="44" fill="#e9a817"/>
<rect x="487.5" y="522.3" width="7" height="2.5" fill="#6a6a5a"/><rect x="507" y="522.3" width="7" height="2.5" fill="#6a6a5a"/>
<path d="M502.5 534.5 L499.5 543.6" stroke="#3e3e3e" stroke-width="1.3"/>
<path d="M507.5 534.5 L504.5 543.6" stroke="#3e3e3e" stroke-width="1.3"/>
<path d="M512.5 534.5 L509.5 543.6" stroke="#3e3e3e" stroke-width="1.3"/>
<rect x="476.9" y="545" width="49.8" height="19.6" fill="#c8cdd4"/>
<rect x="489" y="545" width="5" height="19.6" fill="#b5bbc4"/>
<rect x="475" y="557" width="53" height="1.3" fill="#3e3e3e"/>
<rect x="471.3" y="565.3" width="66.6" height="5.6" fill="#f8bc1b"/>
<rect x="471.3" y="570" width="66.6" height="1.2" fill="#5a4a2a"/>
<circle cx="478.3" cy="575.5" r="2.4" fill="#333"/><circle cx="505" cy="575.5" r="2.4" fill="#333"/><circle cx="529.5" cy="575.5" r="2.4" fill="#333"/>
<rect x="533" y="529.5" width="8.4" height="3.5" rx="1" fill="#c9ccd0"/>
<path d="M540.5 533 Q542 546 540.7 558 Q540 562 538.6 564" fill="none" stroke="#3e3e3e" stroke-width="1.3"/>
<path d="M164 485 Q153 490 150 500 Q149 507 156 512 L165 517 L168 512 L160 505 Q157 500 163 494 Z" fill="#f1a07f"/>
<path d="M164 512 Q170 511 177 513 Q181 516 180 522 Q177 527 170 525 Q165 522 164 517 Z" fill="#f1a07f"/>
<path d="M174 507 L207 507 L208.5 530 L210.5 557 L209 582.5 L196.5 582.5 L194.8 530 L191.5 529 L179.5 582.5 L166.8 582.5 L175.5 530 Z" fill="#243650"/>
<path d="M169 583 L180 583 Q186 588 191 590 L191.5 595.5 L167 595.5 Q166 589 169 583 Z" fill="#2b2222"/>
<path d="M198 583 L209 583 Q216 588 222 591 L222 595.5 L196.5 595.5 Q196 589 198 583 Z" fill="#2b2222"/>
<path d="M181 480.5 L205 480.5 Q212 482 215 488 L218.5 499 L212 502 L209 495 L208 509 L174 509 L173.5 494 L169 494 L160.5 491 L163 485.5 Q170 481 181 480.5 Z" fill="#f5bd2a"/>
<path d="M159.5 488 L164.5 485.5 L166 492.5 L161 493.5 Z" fill="#e0352d"/>
<path d="M211.5 500 L217.5 497.5 L219 502 L213 504.5 Z" fill="#e0352d"/>
<path d="M213 503 L218 500.5 Q226 499 233 491 L238 494 Q230 503 219 506 Z" fill="#f1a07f"/>
<ellipse cx="237.5" cy="489" rx="4.3" ry="5.5" fill="#f1a07f"/>
<path d="M233.5 482 L241.5 495" stroke="#8b9099" stroke-width="1.9" stroke-linecap="round"/>
<path d="M230.2 478.6 A2.8 2.8 0 1 0 235.2 481.4" fill="none" stroke="#8b9099" stroke-width="1.7"/>
<path d="M244.6 498.4 A2.8 2.8 0 1 0 239.6 495.8" fill="none" stroke="#8b9099" stroke-width="1.7"/>
<ellipse cx="237.5" cy="489.5" rx="4" ry="5" fill="#f1a07f"/>
<path d="M181.2 480.5 L187.4 480.5 L187.4 496 L199.8 496 L199.8 480.5 L205.6 480.5 L206.5 509 L174.5 509 L181.2 496 Z" fill="#243650"/>
<rect x="182" y="495.7" width="4.5" height="1.5" fill="#9aa4b0"/><rect x="200.5" y="495.7" width="4.5" height="1.5" fill="#9aa4b0"/>
<rect x="188.5" y="474" width="11" height="9" fill="#f1a07f"/>
<path d="M187.4 481.2 Q193.6 487.5 199.8 481.2 L199.8 484.6 Q193.6 491 187.4 484.6 Z" fill="#e0352d"/>
<ellipse cx="193.8" cy="466" rx="13.3" ry="10.8" fill="#f1a07f"/>
<circle cx="180" cy="465.5" r="2.8" fill="#f1a07f"/><circle cx="207.6" cy="465.5" r="2.8" fill="#f1a07f"/>
<path d="M180 457.5 L184 457.5 L183 462 Z" fill="#3a2420"/><path d="M203.7 457 L207.8 457.5 L206 461.5 Z" fill="#3a2420"/>
<circle cx="188.9" cy="464.6" r="1.6" fill="#2a1a1a"/><circle cx="202.2" cy="464.6" r="1.6" fill="#2a1a1a"/>
<path d="M188.6 468.3 L201.6 468.3 Q200 474.5 195.1 474.5 Q190.2 474.5 188.6 468.3 Z" fill="#ffffff" stroke="#c0504a" stroke-width="0.6"/>
<path d="M179.6 459.2 Q179 449 186 445.8 Q193.6 442.6 201.4 445.1 Q205 447 206.1 451.2 L212.3 452 Q215 454.5 212.3 456.8 L204.5 456.8 Q193 457 179.6 459.2 Z" fill="#f5bd2a"/>
<path d="M204.5 456.8 L212.3 456.8 Q215 454.5 212.3 452 L206.1 451.4 Z" fill="#e8a21e"/>
<path d="M190.3 446 Q196.5 444.2 203 446.6 L202.3 450.3 Q196.5 448.8 191.3 450.6 Z" fill="#e0352d"/>
</svg>

<svg width="642" height="891" style="position:absolute;left:0;top:0;z-index:4">
<defs><filter id="bsh" x="-20%" y="-5%" width="160%" height="110%"><feGaussianBlur stdDeviation="1.5"/></filter></defs>
<line x1="45" y1="805.4" x2="629" y2="805.4" stroke="#4793a1" stroke-width="1.1" stroke-dasharray="4.2,2.8"/>
<line x1="45" y1="775.2" x2="629" y2="775.2" stroke="#4793a1" stroke-width="1.1" stroke-dasharray="4.2,2.8"/>
<line x1="45" y1="745.0" x2="629" y2="745.0" stroke="#4793a1" stroke-width="1.1" stroke-dasharray="4.2,2.8"/>
<line x1="45" y1="714.8" x2="629" y2="714.8" stroke="#4793a1" stroke-width="1.1" stroke-dasharray="4.2,2.8"/>
<line x1="45" y1="684.6" x2="629" y2="684.6" stroke="#4793a1" stroke-width="1.1" stroke-dasharray="4.2,2.8"/>
<line x1="45" y1="654.4" x2="629" y2="654.4" stroke="#4793a1" stroke-width="1.1" stroke-dasharray="4.2,2.8"/>
<text x="36" y="839.0" text-anchor="end" font-family="Liberation Sans, sans-serif" font-size="10.2" textLength="5.5" lengthAdjust="spacingAndGlyphs" fill="#ffffff">0</text>
<text x="36" y="808.8" text-anchor="end" font-family="Liberation Sans, sans-serif" font-size="10.2" textLength="22.0" lengthAdjust="spacingAndGlyphs" fill="#ffffff">2000</text>
<text x="36" y="778.6" text-anchor="end" font-family="Liberation Sans, sans-serif" font-size="10.2" textLength="22.0" lengthAdjust="spacingAndGlyphs" fill="#ffffff">4000</text>
<text x="36" y="748.4" text-anchor="end" font-family="Liberation Sans, sans-serif" font-size="10.2" textLength="22.0" lengthAdjust="spacingAndGlyphs" fill="#ffffff">6000</text>
<text x="36" y="718.2" text-anchor="end" font-family="Liberation Sans, sans-serif" font-size="10.2" textLength="22.0" lengthAdjust="spacingAndGlyphs" fill="#ffffff">8000</text>
<text x="36" y="688.0" text-anchor="end" font-family="Liberation Sans, sans-serif" font-size="10.2" textLength="27.5" lengthAdjust="spacingAndGlyphs" fill="#ffffff">10000</text>
<text x="36" y="657.8" text-anchor="end" font-family="Liberation Sans, sans-serif" font-size="10.2" textLength="27.5" lengthAdjust="spacingAndGlyphs" fill="#ffffff">12000</text>
<rect x="61.5" y="678.1" width="30.6" height="157.5" fill="#03222a" opacity="0.9" filter="url(#bsh)"/>
<rect x="58.7" y="676.6" width="30.6" height="159.0" fill="#92d050"/>
<text x="74.0" y="667.1" text-anchor="middle" font-family="Liberation Sans, sans-serif" font-weight="bold" font-size="10.5" fill="#ffffff">10 528</text>
<text x="74.0" y="853.8" text-anchor="middle" font-family="Liberation Sans, sans-serif" font-size="10.5" fill="#ffffff">2015</text>
<rect x="120.7" y="690.0" width="30.6" height="145.6" fill="#03222a" opacity="0.9" filter="url(#bsh)"/>
<rect x="117.9" y="688.5" width="30.6" height="147.1" fill="#92d050"/>
<text x="133.2" y="679.0" text-anchor="middle" font-family="Liberation Sans, sans-serif" font-weight="bold" font-size="10.5" fill="#ffffff">9 743</text>
<text x="133.2" y="853.8" text-anchor="middle" font-family="Liberation Sans, sans-serif" font-size="10.5" fill="#ffffff">2016</text>
<rect x="179.0" y="709.7" width="30.6" height="125.9" fill="#03222a" opacity="0.9" filter="url(#bsh)"/>
<rect x="176.2" y="708.2" width="30.6" height="127.4" fill="#92d050"/>
<text x="191.5" y="698.7" text-anchor="middle" font-family="Liberation Sans, sans-serif" font-weight="bold" font-size="10.5" fill="#ffffff">8 435</text>
<text x="191.5" y="853.8" text-anchor="middle" font-family="Liberation Sans, sans-serif" font-size="10.5" fill="#ffffff">2017</text>
<rect x="237.1" y="713.9" width="30.6" height="121.7" fill="#03222a" opacity="0.9" filter="url(#bsh)"/>
<rect x="234.3" y="712.4" width="30.6" height="123.2" fill="#92d050"/>
<text x="249.6" y="702.9" text-anchor="middle" font-family="Liberation Sans, sans-serif" font-weight="bold" font-size="10.5" fill="#ffffff">8 158</text>
<text x="249.6" y="853.8" text-anchor="middle" font-family="Liberation Sans, sans-serif" font-size="10.5" fill="#ffffff">2018</text>
<rect x="295.5" y="726.3" width="30.6" height="109.3" fill="#03222a" opacity="0.9" filter="url(#bsh)"/>
<rect x="292.7" y="724.8" width="30.6" height="110.8" fill="#92d050"/>
<text x="308.0" y="715.3" text-anchor="middle" font-family="Liberation Sans, sans-serif" font-weight="bold" font-size="10.5" fill="#ffffff">7 336</text>
<text x="308.0" y="853.8" text-anchor="middle" font-family="Liberation Sans, sans-serif" font-size="10.5" fill="#ffffff">2019</text>
<rect x="353.6" y="738.0" width="30.6" height="97.6" fill="#03222a" opacity="0.9" filter="url(#bsh)"/>
<rect x="350.8" y="736.5" width="30.6" height="99.1" fill="#92d050"/>
<text x="366.1" y="727.0" text-anchor="middle" font-family="Liberation Sans, sans-serif" font-weight="bold" font-size="10.5" fill="#ffffff">6 566</text>
<text x="366.1" y="853.8" text-anchor="middle" font-family="Liberation Sans, sans-serif" font-size="10.5" fill="#ffffff">2020</text>
<rect x="410.9" y="739.6" width="30.6" height="96.0" fill="#03222a" opacity="0.9" filter="url(#bsh)"/>
<rect x="408.1" y="738.1" width="30.6" height="97.5" fill="#92d050"/>
<text x="423.4" y="728.6" text-anchor="middle" font-family="Liberation Sans, sans-serif" font-weight="bold" font-size="10.5" fill="#ffffff">6 459</text>
<text x="423.4" y="853.8" text-anchor="middle" font-family="Liberation Sans, sans-serif" font-size="10.5" fill="#ffffff">2021</text>
<rect x="470.2" y="739.7" width="30.6" height="95.9" fill="#03222a" opacity="0.9" filter="url(#bsh)"/>
<rect x="467.4" y="738.2" width="30.6" height="97.4" fill="#92d050"/>
<text x="482.7" y="728.7" text-anchor="middle" font-family="Liberation Sans, sans-serif" font-weight="bold" font-size="10.5" fill="#ffffff">6 451</text>
<text x="482.7" y="853.8" text-anchor="middle" font-family="Liberation Sans, sans-serif" font-size="10.5" fill="#ffffff">2022</text>
<rect x="528.2" y="732.3" width="30.6" height="103.3" fill="#03222a" opacity="0.9" filter="url(#bsh)"/>
<rect x="525.4" y="730.8" width="30.6" height="104.8" fill="#92d050"/>
<text x="540.7" y="721.3" text-anchor="middle" font-family="Liberation Sans, sans-serif" font-weight="bold" font-size="10.5" fill="#ffffff">6 938</text>
<text x="540.7" y="853.8" text-anchor="middle" font-family="Liberation Sans, sans-serif" font-size="10.5" fill="#ffffff">2023</text>
<rect x="586.6" y="718.7" width="30.6" height="116.9" fill="#03222a" opacity="0.9" filter="url(#bsh)"/>
<rect x="583.8" y="717.2" width="30.6" height="118.4" fill="#92d050"/>
<text x="599.1" y="707.7" text-anchor="middle" font-family="Liberation Sans, sans-serif" font-weight="bold" font-size="10.5" fill="#ffffff">7 842</text>
<text x="599.1" y="853.8" text-anchor="middle" font-family="Liberation Sans, sans-serif" font-size="10.5" fill="#ffffff">2024</text>
<line x1="45.5" y1="835.6" x2="614" y2="835.6" stroke="#e3ecee" stroke-width="1.3"/>
</svg>

</body>
</html>
